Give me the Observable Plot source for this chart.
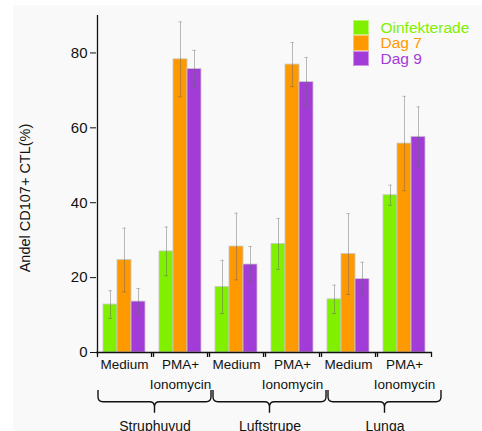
<!DOCTYPE html>
<html><head><meta charset="utf-8">
<script src="https://cdn.jsdelivr.net/npm/d3@7"></script>
<script src="https://cdn.jsdelivr.net/npm/@observablehq/plot@0.6"></script>
<style>
html,body{margin:0;padding:0;background:#fff;}
#wrap{position:relative;width:482px;height:431px;overflow:hidden;font-family:"Liberation Sans",Arial,sans-serif;}
#bg{position:absolute;left:13px;top:5px;right:0;bottom:0;background:#f9f9f9;}
#main{position:absolute;left:0;top:0;}
#brace{position:absolute;left:0;top:385px;}
#legend{position:absolute;left:353px;top:20px;}
.row{display:flex;align-items:center;height:15.3px;}
.sw{width:16px;height:15.3px;box-sizing:border-box;border:1px solid rgba(255,255,255,0.45);}
.lab{margin-left:11.5px;font-size:15.5px;line-height:15.3px;white-space:nowrap;}
</style></head>
<body><div id="wrap"><div id="bg"></div><div id="main"></div><div id="brace"></div><div id="legend"></div></div>
<script>
// ---- data ----
const tissues = ["Struphuvud", "Luftstrupe", "Lunga"];
const treatments = ["Medium", "PMA+\nIonomycin"];
const series = ["Oinfekterade", "Dag 7", "Dag 9"];
const colors = ["#80f000", "#ff9900", "#a33bd9"];
const yTicks = [0, 20, 40, 60, 80];
// values per group: Struphuvud Medium, Struphuvud PMA, Luftstrupe Medium, Luftstrupe PMA, Lunga Medium, Lunga PMA
const meanOinf = [12.8, 27.0, 17.5, 29.0, 14.2, 42.0];
const meanDag7 = [24.7, 78.3, 28.3, 76.9, 26.3, 55.8];
const meanDag9 = [13.6, 75.7, 23.5, 72.2, 19.6, 57.6];
const errOinf = [3.7, 6.5, 7.1, 6.8, 3.8, 2.7];
const errDag7 = [8.5, 10.0, 8.9, 5.9, 10.8, 12.6];
const errDag9 = [3.5, 5.0, 4.8, 6.6, 4.5, 8.0];
const yLabel = "Andel CD107+ CTL(%)";

// ---- table ----
const groups = tissues.flatMap(t => treatments.map(tr => t + "|" + tr));
const means = [meanOinf, meanDag7, meanDag9];
const errs = [errOinf, errDag7, errDag9];
const rows = [];
groups.forEach((g, i) => series.forEach((s, j) => rows.push({group: g, series: s, value: means[j][i], err: errs[j][i]})));

// ---- layout ----
const W = 482, H = 395, mL = 96, mR = 50, mT = 15, mB = 43;
const pad = 0.367;
const facetW = (W - mL - mR) / groups.length;
const step = facetW / (series.length + 2 * pad);
const edge = step / 2 + pad * step;
const font = "'Liberation Sans', Arial, sans-serif";

const plot = Plot.plot({
  width: W, height: H, marginLeft: mL, marginRight: mR, marginTop: mT, marginBottom: mB,
  style: {fontFamily: font, fontSize: "14px", background: "transparent", color: "#111"},
  fx: {domain: groups, paddingInner: 0, paddingOuter: 0, label: null},
  x: {domain: series, paddingInner: 0, paddingOuter: pad, axis: null},
  y: {domain: [0, 90], axis: null},
  color: {domain: series, range: colors},
  marks: [
    Plot.barY(rows, {fx: "group", x: "series", y: "value", fill: "series", stroke: "#c9c9c9", strokeWidth: 0.8}),
    Plot.ruleX(rows, {fx: "group", x: "series", y1: d => d.value - d.err, y2: d => d.value + d.err, stroke: "#666", strokeOpacity: 0.45, strokeWidth: 1}),
    Plot.tickY(rows, {fx: "group", x: "series", y: d => d.value + d.err, stroke: "#999", strokeOpacity: 0.5, insetLeft: 5, insetRight: 5}),
    Plot.tickY(rows, {fx: "group", x: "series", y: d => d.value - d.err, stroke: "#666", strokeOpacity: 0.5, insetLeft: 5, insetRight: 5}),
    Plot.ruleY([0], {stroke: "#111", strokeWidth: 1.3}),
    Plot.ruleX([series[0]], {x: d => d, y1: 0, y2: 0, insetBottom: -5, dx: -edge, stroke: "#111", strokeWidth: 1.3}),
    Plot.ruleX([series[series.length - 1]], {x: d => d, y1: 0, y2: 0, insetBottom: -5, dx: edge, stroke: "#111", strokeWidth: 1.3}),
    Plot.ruleX([groups[0]], {fx: d => d, x: () => series[0], y1: 0, y2: 90, dx: -edge, stroke: "#111", strokeWidth: 1.3}),
    Plot.axisY({ticks: yTicks, tickSize: 6, tickPadding: 3, fontSize: 15, label: null, stroke: "#111"}),
    Plot.text([yLabel], {fx: () => groups[0], text: d => d, frameAnchor: "left", textAnchor: "middle", lineAnchor: "middle", rotate: -90, dx: -71, dy: 14, fontSize: 14.5, fill: "#111"}),
    Plot.axisFx({anchor: "bottom", tickSize: 0, tickPadding: 3, tickFormat: k => k.split("|")[1], lineHeight: 1.45, fontSize: 13.5, label: null})
  ]
});
document.getElementById("main").appendChild(plot);

// ---- braces ----
function braces(index, scales) {
  const x = scales.x, bw = x.bandwidth();
  const g = d3.create("svg:g").attr("fill", "none").attr("stroke", "#111").attr("stroke-width", 1.4);
  const yt = 5, ym = 16.7, yb = 27.7, r = 5;
  for (const t of tissues) {
    const a = x(t) + 1, b = x(t) + bw - 1, c = (a + b) / 2;
    g.append("path").attr("d",
      `M${a},${yt}V${ym - r}Q${a},${ym} ${a + r},${ym}H${c - r}Q${c},${ym} ${c},${ym + r}V${yb}` +
      `M${c},${ym + r}Q${c},${ym} ${c + r},${ym}H${b - r}Q${b},${ym} ${b},${ym - r}V${yt}`);
  }
  return g.node();
}
const bracePlot = Plot.plot({
  width: W, height: 46, marginLeft: 96, marginRight: 39, marginTop: 0, marginBottom: 0,
  style: {fontFamily: font, fontSize: "14px", background: "transparent", color: "#111"},
  x: {type: "band", domain: tissues, paddingInner: 0, paddingOuter: 0, axis: null},
  marks: [
    braces,
    Plot.text(tissues, {x: d => d, text: d => d, frameAnchor: "bottom", lineAnchor: "bottom", dy: -1, fontSize: 14, fill: "#111"})
  ]
});
document.getElementById("brace").appendChild(bracePlot);

// ---- legend ----
const color = plot.scale("color");
const leg = document.getElementById("legend");
for (const s of series) {
  const c = color.apply(s);
  const row = document.createElement("div"); row.className = "row";
  const sw = document.createElement("div"); sw.className = "sw"; sw.style.background = c;
  const lab = document.createElement("span"); lab.className = "lab"; lab.style.color = c; lab.textContent = s;
  row.appendChild(sw); row.appendChild(lab); leg.appendChild(row);
}
</script>
</body></html>
